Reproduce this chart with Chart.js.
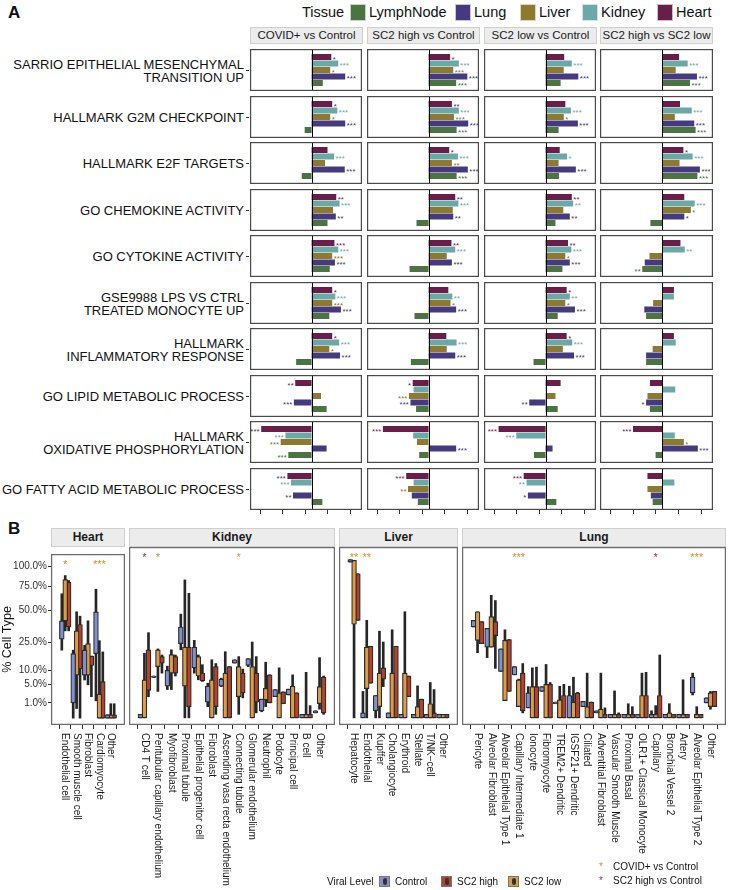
<!DOCTYPE html>
<html>
<head>
<meta charset="utf-8">
<script src="https://cdn.jsdelivr.net/npm/chart.js@4.4.1/dist/chart.umd.min.js"></script>
<style>
  body { margin: 0; width: 729px; height: 890px; position: relative; background: #fff; overflow: hidden;
         font-family: "Liberation Sans", Arial, sans-serif; color: #111; }
  .abs { position: absolute; }
  .strip { position: absolute; background: #ececec; border: 1px solid #cfcfcf; box-sizing: border-box;
           text-align: center; color: #1a1a1a; }
  .rowlab { position: absolute; right: 485px; text-align: right; white-space: pre-line; font-size: 13px;
            line-height: 12.5px; transform: translateY(-50%); color: #111; }
  .key { position: absolute; box-sizing: border-box; border: 1px solid rgba(255,255,255,0.7); }
  canvas { position: absolute; }
</style>
</head>
<body>
<script>
// ---------- panel A data ----------
var contrasts = ["COVID+ vs Control", "SC2 high vs Control", "SC2 low vs Control", "SC2 high vs SC2 low"];
var pathways = [
  "SARRIO EPITHELIAL MESENCHYMAL\nTRANSITION UP",
  "HALLMARK G2M CHECKPOINT",
  "HALLMARK E2F TARGETS",
  "GO CHEMOKINE ACTIVITY",
  "GO CYTOKINE ACTIVITY",
  "GSE9988 LPS VS CTRL\nTREATED MONOCYTE UP",
  "HALLMARK\nINFLAMMATORY RESPONSE",
  "GO LIPID METABOLIC PROCESS",
  "HALLMARK \nOXIDATIVE PHOSPHORYLATION",
  "GO FATTY ACID METABOLIC PROCESS"
];
var tissues = ["Heart", "Kidney", "Liver", "Lung", "LymphNode"];
var tissueColors = ["#6b1d4a", "#6aa9a8", "#8e7a2e", "#45397f", "#4b7442"];

// enrichment score per pathway (rows) and contrast (columns)
var heartNES = [[0.88, 0.96, 0.83, 0.75], [0.92, 1.04, 0.88, 0.79], [0.71, 0.92, 0.63, 0.94], [1.1, 1.19, 1.17, 0.98],
  [1.02, 1.02, 1.0, 0.81], [0.92, 0.88, 0.94, 0.52], [0.92, 0.79, 0.94, 0.52], [-0.73, -0.71, 0.67, -0.54],
  [-2.25, -2.04, -2.1, -1.29], [-1.08, -1.0, -0.98, -0.65]];
var kidneyNES = [[1.19, 1.35, 1.17, 1.13], [1.15, 1.35, 1.13, 1.31], [1.0, 1.31, 0.96, 1.35], [1.25, 1.33, 1.23, 1.44],
  [1.19, 1.19, 1.15, 1.0], [1.06, 1.06, 1.08, 0.52], [1.23, 1.25, 1.19, 0.6], [0.02, -0.67, -0.02, 0.58],
  [-1.17, -0.69, -1.31, 0.56], [-0.92, -0.67, -0.85, 0.54]];
var liverNES = [[0.83, 1.1, 0.81, 0.6], [0.83, 1.13, 0.81, 0.56], [0.6, 1.04, 0.58, 0.77], [0.96, 1.08, 0.79, 1.27],
  [0.92, 0.81, 0.88, -0.56], [0.92, 0.98, 0.88, -0.4], [0.79, 0.81, 0.77, -0.42], [0.42, -0.88, 0.44, -0.65],
  [-1.38, -0.52, 0.0, 0.96], [0.0, -0.92, 0.0, -0.65]];
var lungNES = [[1.5, 1.73, 1.46, 1.54], [1.5, 1.77, 1.44, 1.42], [1.48, 1.75, 1.35, 1.67], [1.08, 1.1, 1.08, 0.98],
  [1.04, 1.04, 1.08, -0.77], [1.31, 1.23, 1.31, -0.79], [1.27, 1.19, 1.27, -0.71], [-0.79, -0.81, -0.73, -0.71],
  [0.67, 1.23, 0.31, 1.58], [-0.83, -0.75, -0.79, -0.5]];
var lymphNES = [[0.5, 1.23, 0.67, 1.23], [-0.31, 1.25, 0.58, 1.48], [-0.44, 1.25, 0.6, 1.56], [0.71, -0.54, 0.44, -0.52],
  [0.81, -0.85, 0.75, -0.88], [0.79, -0.63, 0.54, -0.71], [-0.69, -0.79, -0.54, -0.71], [0.67, -0.56, 0.54, -0.54],
  [-1.04, -0.42, -0.52, -0.29], [0.48, -0.48, 0.48, -0.42]];

var heartSig = [["*", "*", "", ""], ["*", "**", "", ""], ["", "*", "", "*"], ["**", "**", "**", ""], ["***", "**", "**", ""],
  ["*", "", "*", ""], ["*", "", "*", ""], ["**", "*", "", ""], ["***", "***", "***", "***"], ["***", "***", "***", ""]];
var kidneySig = [["***", "***", "***", "***"], ["***", "***", "***", "***"], ["***", "***", "*", "***"], ["***", "***", "**", "***"],
  ["***", "***", "***", "**"], ["***", "**", "**", ""], ["***", "***", "***", ""], ["", "", "", ""], ["***", "", "***", ""],
  ["***", "", "**", ""]];
var liverSig = [["*", "***", "", ""], ["*", "***", "*", ""], ["", "**", "", ""], ["", "", "", "*"], ["***", "", "*", ""],
  ["***", "*", "*", ""], ["*", "", "", ""], ["", "***", "", ""], ["***", "", "", "*"], ["", "**", "", ""]];
var lungSig = [["***", "***", "***", "***"], ["***", "***", "***", "***"], ["***", "***", "***", "***"], ["**", "**", "**", "*"],
  ["***", "***", "***", ""], ["***", "***", "***", ""], ["***", "***", "***", ""], ["***", "***", "**", "*"],
  ["", "***", "", "***"], ["**", "", "*", ""]];
var lymphSig = [["", "***", "", "***"], ["", "***", "", "***"], ["", "***", "", "***"], ["", "", "", ""], ["", "", "", "**"],
  ["", "", "", ""], ["", "", "", ""], ["", "", "", ""], ["***", "", "", ""], ["", "", "", ""]];

// ---------- panel B data: [min, lower box, upper box, max] in % ----------
var heartCells = ["Endothelial cell", "Smooth muscle cell", "Fibroblast", "Cardiomyocyte", "Other"];
var heartControl = [[20, 27, 41, 67], [0, 1, 18, 20], [6.3, 8, 20, 23], [1.3, 18, 49, 72], [0, 0, 0.05, 0.05]];
var heartLow = [[33, 41, 83, 88], [0.4, 8, 33, 49], [4.8, 8, 24, 41], [0, 0, 2.5, 26], [0, 0, 0.05, 0.9]];
var heartHigh = [[33, 36, 80, 82], [0, 10.5, 38, 45], [2, 12, 16.7, 16.7], [0, 0, 5.8, 19], [0, 0, 0.05, 0.9]];
var heartSigCovid = ["*", "", "", "***", ""];
var heartSigHigh = ["", "", "", "", ""];

var kidneyCells = ["CD4 T cell", "Peritubular capillary endothelium", "Myofibroblast", "Proximal tubule",
  "Epithelial progenitor cell", "Fibroblast", "Ascending vasa recta endothelium", "Connecting tubule",
  "Glomerular endothelium", "Neutrophil", "Podocyte", "Principal cell", "B cell", "Other"];
var kidneyControl = [[0, 0, 0.05, 0.05], [6.5, 6.5, 7, 7], [3.2, 4, 9, 10.7], [18.5, 22, 33, 43], [8, 10, 20, 24],
  [0.5, 1, 4, 4.8], [3.9, 4, 6, 6.3], [12, 12, 13.5, 13.5], [10.5, 11, 14, 14], [0.15, 0.2, 1.4, 1.4],
  [1.8, 1.8, 3.2, 3.2], [2.1, 2.1, 3.3, 3.3], [0, 0, 0.05, 0.05], [0.1, 0.1, 0.2, 0.2]];
var kidneyLow = [[0, 0, 5.8, 16.7], [2.8, 10.5, 18.5, 19], [3.2, 8, 16, 18.5], [0, 4, 20, 76], [5.8, 7, 15, 15.8],
  [0, 0, 5.8, 13.5], [0, 0, 8, 17.5], [0.05, 1.8, 10.5, 15], [0, 0, 10.5, 23], [0.5, 1.3, 3.5, 12.4],
  [0, 0, 2.5, 10], [0, 0, 4, 7.4], [0, 0, 0.05, 8.3], [0.3, 0.8, 3.9, 14.5]];
var kidneyHigh = [[1.8, 3, 18.5, 29], [8, 12, 15, 15.8], [7, 8, 15, 15.8], [0, 0.5, 20, 62], [5.3, 5.5, 8, 11.3],
  [0.05, 0.5, 10.5, 11.8], [0, 0, 10.5, 10.5], [1.6, 2.5, 8, 9.5], [0.1, 1, 8, 15], [0.9, 0.9, 7.4, 7.4],
  [0.8, 0.8, 2.7, 2.7], [0, 0, 2.5, 2.5], [0, 0, 0.05, 0.6], [0.05, 0.1, 6.6, 7]];
var kidneySigCovid = ["", "*", "", "", "", "", "", "*", "", "", "", "", "", ""];
var kidneySigHigh = ["*", "", "", "", "", "", "", "", "", "", "", "", "", ""];

var liverCells = ["Hepatocyte", "Endothelial", "Kupffer", "Cholangiocyte", "Erythroid", "Stellate", "T/NK\u2212cell", "Other"];
var liverControl = [[97, 97, 100, 100], [0, 0, 0.1, 2.8], [0, 0.2, 2, 2], [0, 0, 0.1, 0.1], [0, 0, 0.05, 0.05],
  [0, 0, 0.05, 0.05], [0, 0, 0.05, 0.05], [0, 0, 0.05, 0.05]];
var liverLow = [[0, 35, 99, 99], [0, 3.4, 20, 38], [0, 0.5, 8, 30], [0, 0, 8, 31], [0, 0, 8, 45], [0, 0, 0.5, 4.1],
  [0, 0, 0.8, 5], [0, 0, 0.05, 0.05]];
var liverHigh = [[38, 38, 83, 83], [4.8, 4.8, 20.5, 20.5], [3.9, 6, 10, 23], [0, 0, 20.5, 20.5], [1.8, 1.8, 7, 7],
  [0, 0, 1.4, 1.4], [0, 0, 0.1, 3.2], [0, 0, 0.05, 0.05]];
var liverSigCovid = ["**", "**", "", "", "", "", "", ""];
var liverSigHigh = ["", "", "", "", "", "", "", ""];

var lungCells = ["Pericyte", "Alveolar Fibroblast", "Alveolar Epithelial Type 1", "Capillary Intermediate 1", "Ionocyte",
  "Fibromyocyte", "TREM2+ Dendritic", "IGSF21+ Dendritic", "Ciliated", "Adventitial Fibroblast", "Vascular Smooth Muscle",
  "Proximal Basal", "OLR1+ Classical Monocyte", "Capillary", "Bronchial Vessel 2", "Artery", "Alveolar Epithelial Type 2", "Other"];
var lungControl = [[33, 33, 38, 38], [14.5, 20, 32, 32], [8.6, 8.6, 19, 19], [7.4, 7.4, 10.5, 10.5], [0.4, 0.4, 2.5, 3.9],
  [2.8, 2.8, 3.9, 3.9], [0.8, 0.8, 1, 1], [0, 0, 2, 4], [0.5, 0.5, 1.1, 1.1], [0.1, 0.1, 0.2, 0.2], [0, 0, 0.05, 0.05],
  [0, 0, 0.05, 0.05], [0, 0, 0.05, 0.05], [0, 0, 0.05, 0.2], [0, 0, 0.05, 0.05], [0, 0, 0.05, 0.05], [2.1, 2.5, 6.6, 8],
  [0.9, 0.9, 1.6, 1.6]];
var lungLow = [[17, 24, 45, 45], [20, 20, 41, 60], [1.2, 1.2, 24, 31], [0.5, 0.5, 5.8, 6], [0, 0, 3.9, 10], [0, 0, 4.5, 11.4],
  [0, 0, 1.3, 4], [0, 0, 1, 6.6], [0, 0, 0.5, 8], [0, 0, 0.3, 8], [0, 0, 0.05, 2.9], [0, 0, 0.05, 0.8], [0, 0, 2, 8],
  [0, 0, 0.05, 0.6], [0, 0, 0.1, 0.8], [0, 0, 0.05, 5.8], [0, 0, 0.05, 0.5], [0.3, 0.5, 2.5, 2.8]];
var lungHigh = [[22, 22, 37, 37], [9.8, 27, 37, 55], [2.8, 2.8, 24.5, 24.5], [0.1, 0.2, 8, 11.8], [0, 0, 3.9, 10.3],
  [0, 0, 4.5, 5], [0, 0, 2, 4.5], [0, 0, 2.5, 2.6], [0, 0, 1, 1], [0, 0, 0.05, 0.4], [0, 0, 0.05, 0.1], [0, 0, 0.05, 0.5],
  [0, 0, 2, 8.3], [0, 0, 2, 15.8], [0, 0, 0.05, 0.05], [0, 0, 0.05, 0.05], [0, 0, 0.05, 0.05], [0.5, 0.5, 2.8, 2.8]];
var lungSigCovid = ["", "", "", "***", "", "", "", "", "", "", "", "", "", "", "", "", "***", ""];
var lungSigHigh = ["", "", "", "", "", "", "", "", "", "", "", "", "", "*", "", "", "", ""];

var yTicksPct = [1, 5, 10, 25, 50, 75, 100];
var levelNames = ["Control", "SC2 high", "SC2 low"];
var levelColors = ["#8190d0", "#b3442b", "#dc9c48"];

Chart.defaults.font.family = '"Liberation Sans", Arial, sans-serif';
Chart.defaults.animation = false;

function el(tag, cls, css, text) {
  var d = document.createElement(tag);
  if (cls) d.className = cls;
  if (css) d.style.cssText = css;
  if (text != null) d.textContent = text;
  document.body.appendChild(d);
  return d;
}

// ---------- panel A ----------
el("div", "abs", "left:8px;top:3px;font-size:17px;font-weight:bold", "A");
el("div", "abs", "left:302px;top:3px;font-size:14.5px;line-height:19px", "Tissue");
var legendOrder = [4, 3, 2, 1, 0];
var keyX = [350, 455, 520, 582, 657];
legendOrder.forEach(function (t, i) {
  el("div", "key", "left:" + keyX[i] + "px;top:4px;width:16px;height:17px;background:" + tissueColors[t]);
  el("div", "abs", "left:" + (keyX[i] + 19) + "px;top:3px;font-size:14.5px;line-height:19px", tissues[t]);
});

var colX = [250, 367, 484, 600];
var colW = 112;
contrasts.forEach(function (c, j) {
  el("div", "strip", "left:" + colX[j] + "px;top:27px;width:" + (colW + 1) + "px;height:17px;font-size:11.5px;line-height:15px", c);
});

var nesByTissue = [heartNES, kidneyNES, liverNES, lungNES, lymphNES];
var sigByTissue = [heartSig, kidneySig, liverSig, lungSig, lymphSig];
var panelH = 42;

var panelPlugin = {
  id: "panelA",
  afterDatasetsDraw: function (chart, args, opts) {
    var ctx = chart.ctx, xs = chart.scales.x, ys = chart.scales.y;
    var w = chart.width;
    ctx.save();
    // zero line
    var zx = Math.round(xs.getPixelForValue(0)) + 0.5;
    ctx.strokeStyle = "#000";
    ctx.lineWidth = 1;
    ctx.beginPath(); ctx.moveTo(zx, 0); ctx.lineTo(zx, panelH); ctx.stroke();
    // significance stars
    ctx.font = "8px 'Liberation Sans', Arial, sans-serif";
    ctx.textBaseline = "middle";
    var ds = chart.data.datasets[0];
    opts.sig.forEach(function (s, k) {
      if (!s) return;
      var v = ds.data[k];
      var px = xs.getPixelForValue(v);
      var py = ys.getPixelForValue(k) + 2.5;
      ctx.fillStyle = tissueColors[k];
      if (v >= 0) { ctx.textAlign = "left"; ctx.fillText(s, px + 1.5, py); }
      else { ctx.textAlign = "right"; ctx.fillText(s, px - 1.5, py); }
    });
    // panel border
    ctx.strokeStyle = "#4a4a4a";
    ctx.lineWidth = 1.2;
    ctx.strokeRect(0.6, 0.6, w - 1.2, panelH - 1.2);
    // bottom ticks
    if (opts.ticks) {
      ctx.strokeStyle = "#333";
      ctx.lineWidth = 1;
      [-2.3, -1.3, -0.3, 0.7, 1.7].forEach(function (t) {
        var tx = Math.round(xs.getPixelForValue(t)) + 0.5;
        ctx.beginPath(); ctx.moveTo(tx, panelH); ctx.lineTo(tx, panelH + 4); ctx.stroke();
      });
    }
    ctx.restore();
  }
};

pathways.forEach(function (p, i) {
  var top = Math.round(49 + i * 46.5);
  el("div", "rowlab", "top:" + (top + 22) + "px", p);
  el("div", "abs", "left:246px;top:" + (top + 21) + "px;width:3px;height:1px;background:#333");
  contrasts.forEach(function (c, j) {
    var last = i === pathways.length - 1;
    var cv = el("canvas", null, "left:" + colX[j] + "px;top:" + top + "px");
    cv.width = colW + (j === 3 ? 1 : 0);
    cv.height = last ? panelH + 6 : panelH;
    new Chart(cv, {
      type: "bar",
      data: {
        labels: tissues,
        datasets: [{
          data: nesByTissue.map(function (a) { return a[i][j]; }),
          backgroundColor: tissueColors,
          borderWidth: 0,
          barPercentage: 0.95,
          categoryPercentage: 1
        }]
      },
      options: {
        indexAxis: "y",
        responsive: false,
        events: [],
        layout: { padding: { top: 4.75, bottom: last ? 10.75 : 4.75, left: 0, right: 0 } },
        scales: {
          x: { type: "linear", min: -2.75, max: 2.25, display: false },
          y: { type: "category", display: false, offset: true }
        },
        plugins: {
          legend: { display: false },
          tooltip: { enabled: false },
          panelA: { sig: sigByTissue.map(function (a) { return a[i][j]; }), ticks: last }
        }
      },
      plugins: [panelPlugin]
    });
  });
});

// ---------- panel B ----------
el("div", "abs", "left:8px;top:519px;font-size:17px;font-weight:bold", "B");
var bTop = 547, bLabelPad = 160;

var facetPlugin = {
  id: "facetB",
  afterDraw: function (chart, args, opts) {
    var ctx = chart.ctx, a = chart.chartArea, xs = chart.scales.x;
    ctx.save();
    ctx.strokeStyle = "#6e6e6e";
    ctx.lineWidth = 1.3;
    ctx.strokeRect(a.left + 0.6, a.top + 0.6, a.right - a.left - 1.2, a.bottom - a.top - 1.2);
    // cell type labels, reading downwards
    ctx.font = "10px 'Liberation Sans', Arial, sans-serif";
    ctx.fillStyle = "#1a1a1a";
    ctx.textAlign = "left";
    ctx.textBaseline = "middle";
    opts.cells.forEach(function (c, k) {
      var px = xs.getPixelForValue(k);
      ctx.save();
      ctx.translate(px, a.bottom + 8);
      ctx.rotate(Math.PI / 2);
      ctx.fillText(c, 0, 0);
      ctx.restore();
    });
    // significance stars
    ctx.font = "11px 'Liberation Sans', Arial, sans-serif";
    ctx.textAlign = "center";
    ctx.textBaseline = "top";
    opts.covid.forEach(function (s, k) {
      if (!s) return;
      ctx.fillStyle = "#e08c22";
      ctx.fillText(s, xs.getPixelForValue(k), a.top + 5);
    });
    opts.high.forEach(function (s, k) {
      if (!s) return;
      ctx.fillStyle = "#9e2a40";
      ctx.fillText(s, xs.getPixelForValue(k), a.top + 5);
    });
    ctx.restore();
  }
};

function sq(v) { return Math.sqrt(v); }

function facet(name, cells, ctrl, high, low, sigCovid, sigHigh, left, right, showY) {
  var areaLeft = showY ? 51 : 0;
  el("div", "strip", "left:" + (left + areaLeft) + "px;top:528px;width:" + (right - left - areaLeft) +
    "px;height:19px;font-size:12px;font-weight:bold;line-height:17px", name);
  var cv = el("canvas", null, "left:" + left + "px;top:" + bTop + "px");
  cv.width = right - left;
  cv.height = 890 - bTop;
  var groups = [[ctrl, -0.3, levelColors[0]], [low, 0, levelColors[2]], [high, 0.3, levelColors[1]]];
  var datasets = [];
  groups.forEach(function (g) {
    datasets.push({
      data: g[0].map(function (v, k) { return { x: k + g[1], y: [sq(v[0]), sq(Math.max(v[3], 0.05))] }; }),
      backgroundColor: "#262626",
      barThickness: 2,
      grouped: false,
      order: 2
    });
    datasets.push({
      data: g[0].map(function (v, k) { return { x: k + g[1], y: [sq(v[1]), sq(Math.max(v[2], 0.05))] }; }),
      backgroundColor: g[2],
      borderColor: "#2a2a2a",
      borderWidth: 1.2,
      borderSkipped: false,
      barThickness: 4.8,
      grouped: false,
      order: 1
    });
  });
  var yAxis = {
    type: "linear", min: -0.45, max: 10.8, display: showY,
    afterBuildTicks: function (s) { s.ticks = yTicksPct.map(function (p) { return { value: Math.sqrt(p) }; }); },
    ticks: { font: { size: 10 }, color: "#333", padding: 1,
             callback: function (v) { return (v * v).toFixed(1) + "%"; } },
    grid: { drawOnChartArea: false, tickLength: 3, color: "#333" },
    border: { display: false },
    title: { display: showY, text: "% Cell Type", font: { size: 12.5 }, color: "#111", padding: 0 }
  };
  if (showY) yAxis.afterFit = function (s) { s.width = 51; };
  new Chart(cv, {
    type: "bar",
    data: { datasets: datasets },
    options: {
      responsive: false,
      events: [],
      layout: { padding: { top: 0, bottom: bLabelPad, left: 0, right: 0 } },
      scales: {
        x: {
          type: "linear", min: -0.6, max: cells.length - 0.4,
          afterBuildTicks: function (s) { s.ticks = cells.map(function (c, k) { return { value: k }; }); },
          afterFit: function (s) { s.height = 5; },
          ticks: { callback: function () { return ""; } },
          grid: { drawOnChartArea: false, tickLength: 4, color: "#333" },
          border: { display: false }
        },
        y: yAxis
      },
      plugins: {
        legend: { display: false },
        tooltip: { enabled: false },
        facetB: { cells: cells, covid: sigCovid, high: sigHigh }
      }
    },
    plugins: [facetPlugin]
  });
}

facet("Heart", heartCells, heartControl, heartHigh, heartLow, heartSigCovid, heartSigHigh, 0, 125, true);
facet("Kidney", kidneyCells, kidneyControl, kidneyHigh, kidneyLow, kidneySigCovid, kidneySigHigh, 129, 335, false);
facet("Liver", liverCells, liverControl, liverHigh, liverLow, liverSigCovid, liverSigHigh, 339, 458, false);
facet("Lung", lungCells, lungControl, lungHigh, lungLow, lungSigCovid, lungSigHigh, 462, 726, false);

// ---------- panel B legends ----------
el("div", "abs", "left:327px;top:875px;font-size:10px;line-height:14px", "Viral Level");
var vlX = [379, 441, 508];
levelNames.forEach(function (n, i) {
  el("div", "abs", "left:" + vlX[i] + "px;top:876px;width:11px;height:11px;box-sizing:border-box;border:1px solid #777;background:" + levelColors[i]);
  el("div", "abs", "left:" + (vlX[i] + 4) + "px;top:878px;width:4px;height:7px;border-radius:2px;background:#333");
  el("div", "abs", "left:" + (vlX[i] + 16) + "px;top:875px;font-size:10px;line-height:14px", n);
});
el("div", "abs", "left:599px;top:860px;font-size:10px;line-height:14px;color:#e08c22", "*");
el("div", "abs", "left:613px;top:860px;font-size:10px;line-height:14px", "COVID+ vs Control");
el("div", "abs", "left:599px;top:874px;font-size:10px;line-height:14px;color:#9e2a40", "*");
el("div", "abs", "left:613px;top:874px;font-size:10px;line-height:14px", "SC2 high vs Control");
</script>
</body>
</html>
